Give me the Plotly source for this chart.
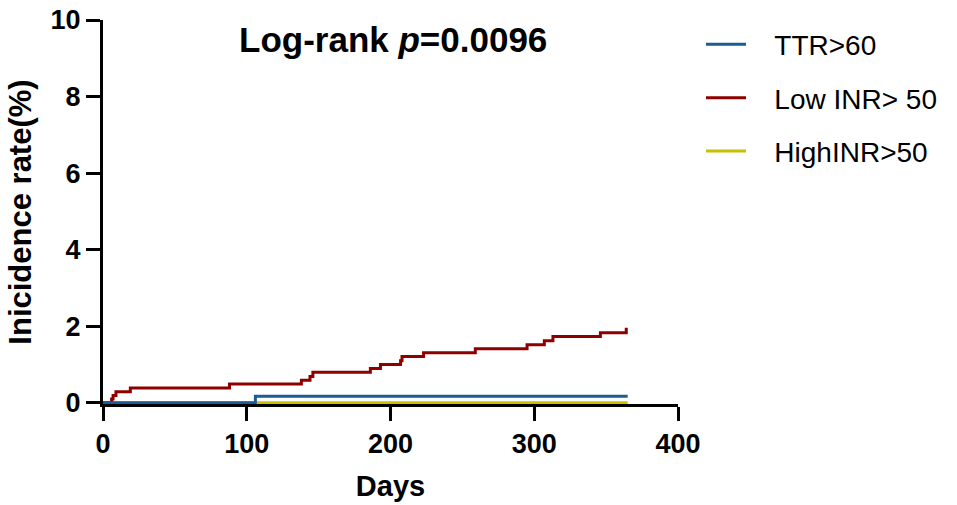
import plotly.graph_objects as go

# Data (days, incidence %)
ttr_days = [0, 106, 365]
ttr_vals = [0, 0.17, 0.17]

low_days = [0, 6, 7, 9, 19, 88, 138, 144, 146, 186, 193, 207, 208, 223, 259, 295, 307, 313, 346, 364]
low_vals = [0, 0.10, 0.19, 0.29, 0.39, 0.49, 0.59, 0.69, 0.80, 0.90, 1.00, 1.10, 1.21, 1.31, 1.41, 1.52, 1.62, 1.73, 1.83, 1.96]

high_days = [0, 365]
high_vals = [0, 0]

names = ["TTR>60", "Low INR> 50", "HighINR>50"]
colors = ["#1B5B96", "#8E0000", "#C8C000"]

FONT = "Liberation Sans, Arial, sans-serif"
PAD = "\u00a0\u00a0\u00a0"

fig = go.Figure()
# draw order: yellow, red, blue (blue on top)
fig.add_trace(go.Scatter(x=high_days, y=high_vals, mode="lines", line=dict(color=colors[2], width=3, shape="hv"),
                         name=PAD + names[2], legendgroup="c", legendrank=3))
fig.add_trace(go.Scatter(x=low_days, y=low_vals, mode="lines", line=dict(color=colors[1], width=3, shape="hv"),
                         name=PAD + names[1], legendgroup="b", legendrank=2))
fig.add_trace(go.Scatter(x=ttr_days, y=ttr_vals, mode="lines", line=dict(color=colors[0], width=3, shape="hv"),
                         name=PAD + names[0], legendgroup="a", legendrank=1))

fig.add_annotation(text="<b>Log-rank <i>p</i>=0.0096</b>", xref="paper", yref="paper", x=0.505, y=0.949,
                   xanchor="center", yanchor="middle", showarrow=False,
                   font=dict(family=FONT, size=35, color="black"))

fig.update_layout(
    width=957, height=505,
    margin=dict(l=103, r=279, t=20, b=101, autoexpand=False),
    paper_bgcolor="white", plot_bgcolor="white",
    font=dict(family=FONT, color="black"),
    legend=dict(
        x=1.04, y=1.001, xanchor="left", yanchor="top",
        font=dict(family=FONT, size=28, color="black"),
        traceorder="grouped", tracegroupgap=14,
        itemwidth=40, bgcolor="rgba(0,0,0,0)",
    ),
    xaxis=dict(
        range=[0, 400], dtick=100, tick0=0, automargin=False,
        showline=True, linecolor="black", linewidth=3,
        ticks="outside", ticklen=14, tickwidth=3, tickcolor="black",
        showgrid=False, zeroline=False, layer="below traces",
        tickfont=dict(family=FONT, size=27, color="black", weight="bold"),
        title=dict(text="<b>Days</b>", font=dict(family=FONT, size=29, color="black"), standoff=18),
    ),
    yaxis=dict(
        range=[-0.03, 10], dtick=2, tick0=0, automargin=False,
        showline=True, linecolor="black", linewidth=3,
        ticks="outside", ticklen=14, tickwidth=3, tickcolor="black",
        showgrid=False, zeroline=False, layer="below traces",
        tickfont=dict(family=FONT, size=27, color="black", weight="bold"),
        title=dict(text="<b>Inicidence rate(%)</b>", font=dict(family=FONT, size=31, color="black"), standoff=10),
    ),
)

fig.write_html("out.html")
